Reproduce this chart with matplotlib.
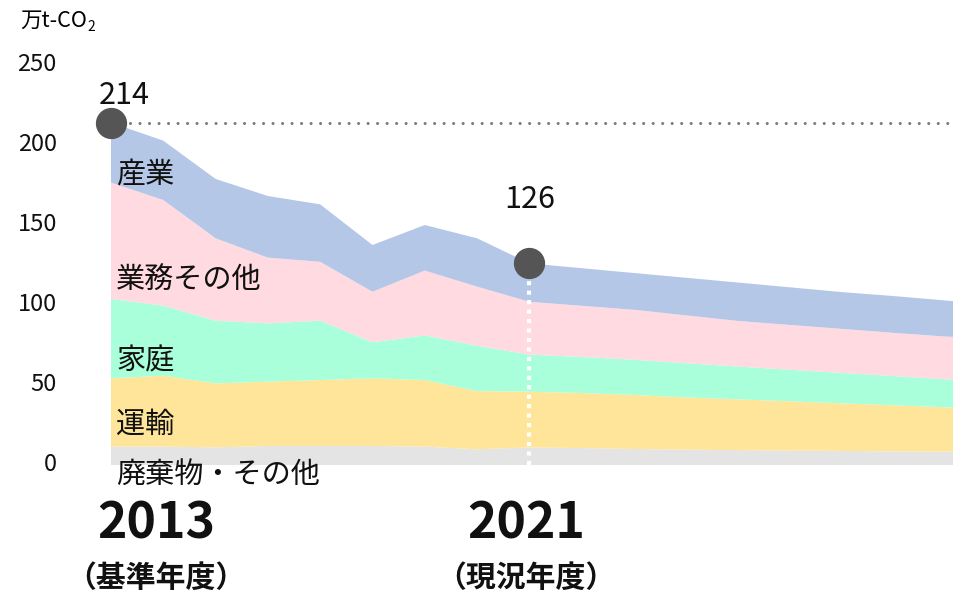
import matplotlib
matplotlib.use("Agg")
import matplotlib.pyplot as plt
import numpy as np

plt.rcParams['font.family'] = ['Noto Sans CJK JP', 'DejaVu Sans']

# データ（万t-CO2）
years = [2013, 2014, 2015, 2016, 2017, 2018, 2019, 2020, 2021,
         2022, 2023, 2024, 2025, 2026, 2027, 2028, 2029, 2030]
haikibutsu = [11.5, 11.5, 11.0, 11.9, 11.9, 11.9, 11.5, 9.8, 11.0,
              10.6, 10.0, 9.6, 9.3, 9.0, 8.8, 8.5, 8.3, 8.2]
unyu = [42.7, 44.3, 40.0, 40.2, 41.2, 42.3, 41.6, 36.4, 34.8,
        34.4, 33.8, 32.6, 31.7, 30.8, 29.7, 28.8, 27.7, 27.4]
katei = [49.6, 43.8, 39.2, 36.4, 37.1, 22.5, 27.9, 28.4, 23.2,
         22.5, 22.0, 21.4, 20.5, 19.7, 19.0, 18.2, 17.5, 17.3]
gyomu = [72.7, 66.0, 51.5, 41.1, 36.8, 31.6, 40.5, 36.9, 33.0,
         32.0, 31.2, 29.9, 28.5, 28.0, 27.5, 27.0, 26.7, 26.5]
sangyo = [37.5, 37.1, 37.1, 38.5, 35.9, 29.2, 28.5, 30.2, 24.0,
          23.5, 23.0, 23.5, 24.0, 23.5, 23.0, 23.0, 22.5, 21.0]

sectors = ['廃棄物・その他', '運輸', '家庭', '業務その他', '産業']
colors = ['#e4e4e4', '#ffe599', '#a9ffd9', '#ffdae0', '#b4c7e7']

base_year, base_value = 2013, 214
now_year, now_value = 2021, 126
yticks = [0, 50, 100, 150, 200, 250]

fig = plt.figure(figsize=(9.54, 5.95), dpi=100)
W, H = 954, 595
ax = fig.add_axes([111 / W, (H - 465) / H, (W - 111) / W, 400 / H])

ax.stackplot(years, haikibutsu, unyu, katei, gyomu, sangyo,
             colors=colors, linewidth=0)

ax.set_xlim(2013, 2029.12)
ax.set_ylim(0, 250)
for s in ax.spines.values():
    s.set_visible(False)
ax.set_xticks([])
ax.set_yticks(yticks)
ax.tick_params(axis='y', length=0, pad=39, labelsize=17, labelcolor='#111111')
for lab in ax.get_yticklabels():
    lab.set_y(lab.get_position()[1])
    lab.set_transform(lab.get_transform() + matplotlib.transforms.ScaledTranslation(0, 3 / 100, fig.dpi_scale_trans))

# 基準年の点線
ax.plot([base_year, 2029.12], [base_value, base_value], color='#7a7a7a',
        linewidth=2.2, linestyle=(0, (0.01, 3.1)), dash_capstyle='round',
        zorder=3, clip_on=False)
# 現況年度の縦線
ax.plot([now_year, now_year], [0, now_value], color='white', linewidth=3,
        linestyle=(0, (1, 1.27)), zorder=3)

ax.plot([base_year, now_year], [base_value, now_value], linestyle='none',
        marker='o', markersize=21.5, color='#555555', zorder=5, clip_on=False)
ax.text(base_year + 0.25, base_value + 17, str(base_value), fontsize=22,
        ha='center', va='center', color='#111111')
ax.text(now_year, now_value + 40, str(now_value), fontsize=22,
        ha='center', va='center', color='#111111')

# 部門ラベル
label_y = [-6.5, 25, 65, 115, 181]
for name, yy in zip(sectors, label_y):
    ax.text(2013.1, yy, name, fontsize=21, ha='left', va='center',
            color='#111111', clip_on=False)

# 単位
unit = fig.text(20 / W, 1 - 21 / H, '万t-CO', fontsize=15.5, ha='left', va='center')
fig.canvas.draw()
bb = unit.get_window_extent()
fig.text((bb.x1 + 1) / W, 1 - 27 / H, '2', fontsize=10, ha='left', va='center')

# 年度ラベル
for yr, sub in [(base_year, '（基準年度）'), (now_year, '（現況年度）')]:
    xf = {base_year: 156, now_year: 526}[yr] / W
    fig.text(xf, 1 - 524 / H, str(yr), fontsize=36, fontweight='bold',
             ha='center', va='center', color='#111111')
    fig.text(xf, 1 - 578 / H, sub, fontsize=21.5, fontweight='bold',
             ha='center', va='center', color='#111111')

fig.savefig('out.png', dpi=100)
